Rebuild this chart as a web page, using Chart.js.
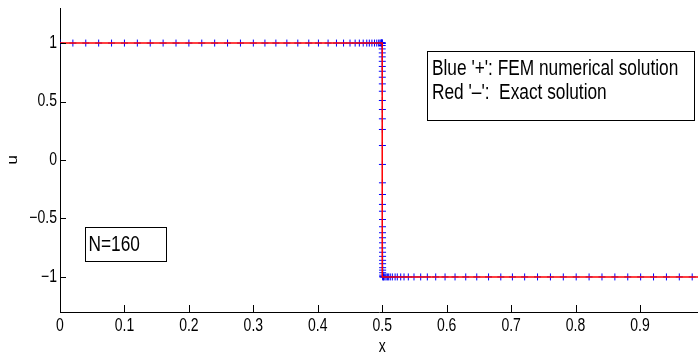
<!DOCTYPE html>
<html>
<head>
<meta charset="utf-8">
<script src="https://cdn.jsdelivr.net/npm/chart.js@4.4.0/dist/chart.umd.min.js"></script>
<style>
    html, body { margin: 0; padding: 0; background: #fff; overflow: hidden; }
</style>
</head>
<body>
<canvas id="solutionChart" width="698" height="356"></canvas>
<script>
// FEM nodes (blue '+')
const femX = [
    0, 0.02, 0.04, 0.06, 0.08, 0.10, 0.12, 0.14, 0.16, 0.18, 0.20, 0.22, 0.24, 0.26, 0.28, 0.30, 0.318,
    0.335, 0.352, 0.369, 0.386, 0.401, 0.416, 0.429, 0.440, 0.450, 0.458, 0.4645, 0.4705, 0.476, 0.480, 0.484, 0.488, 0.4915, 0.4945, 0.4965, 0.498, 0.499,
    0.4994, 0.4997, 0.4999,
    0.50000, 0.50002, 0.50004, 0.50006, 0.50008, 0.50010, 0.50012, 0.50014, 0.50016, 0.50018, 0.50020, 0.50022,
    0.50024, 0.50026, 0.50028, 0.50030, 0.50032, 0.50034, 0.50036, 0.50038, 0.50040, 0.50042, 0.50044, 0.50046,
    0.50048, 0.50050, 0.50052, 0.50054, 0.50056, 0.50058, 0.50060, 0.50062, 0.50064, 0.50066, 0.50068, 0.50070,
    0.5012, 0.502, 0.504, 0.506, 0.508, 0.510, 0.5125,
    0.5157, 0.520, 0.5234, 0.5287, 0.5338, 0.5405, 0.5493, 0.5597, 0.570, 0.583, 0.5975, 0.613, 0.6296, 0.6467,
    0.665, 0.684, 0.702, 0.721, 0.741, 0.761, 0.781, 0.801, 0.821, 0.841, 0.861, 0.881, 0.901, 0.921, 0.941, 0.961, 0.981, 1.0
];
const femU = [
    1, 1, 1, 1, 1, 1, 1, 1, 1, 1, 1, 1, 1, 1, 1, 1, 1,
    1, 1, 1, 1, 1, 1, 1, 1, 1, 1, 1, 1, 1, 1, 1, 1, 1, 1, 1, 1, 1,
    1, 1, 1,
    0.999, 0.979, 0.950, 0.916, 0.882, 0.844, 0.800, 0.759, 0.708, 0.651, 0.588, 0.509,
    0.432, 0.352, 0.261, 0.124, -0.038, -0.195, -0.295, -0.380, -0.438, -0.509, -0.571, -0.622,
    -0.665, -0.708, -0.752, -0.789, -0.824, -0.858, -0.887, -0.921, -0.942, -0.964, -0.985, -0.998,
    -1, -1, -1, -1, -1, -1, -1,
    -1, -1, -1, -1, -1, -1, -1, -1, -1, -1, -1, -1, -1, -1,
    -1, -1, -1, -1, -1, -1, -1, -1, -1, -1, -1, -1, -1, -1, -1, -1, -1, -1
];

// exact solution (red line)
const exactX = [0, 0.5, 0.5, 1];
const exactU = [1, 1, -1, -1];

const xTicks = [0, 0.1, 0.2, 0.3, 0.4, 0.5, 0.6, 0.7, 0.8, 0.9];
const xTickLabels = ['0', '0.1', '0.2', '0.3', '0.4', '0.5', '0.6', '0.7', '0.8', '0.9'];
const yTicks = [-1, -0.5, 0, 0.5, 1];
const yTickLabels = ['\u22121', '\u22120.5', '0', '0.5', '1'];

const legendLines = ["Blue '+': FEM numerical solution", "Red '\u2013':  Exact solution"];
const noteText = 'N=160';

const FONT = '"Liberation Sans", Arial, sans-serif';
const STRETCH = 1.25; // text in the figure is a bit tall and narrow

function stretchedText(ctx, text, px, py, size, align, baseline) {
    ctx.save();
    ctx.translate(px, py);
    ctx.scale(1, STRETCH);
    ctx.font = size + 'px ' + FONT;
    ctx.fillStyle = '#000';
    ctx.textAlign = align;
    ctx.textBaseline = baseline;
    ctx.fillText(text, 0, 0);
    ctx.restore();
}

// inward ticks, labels and the two text boxes (matlab look)
const matlabAxes = {
    id: 'matlabAxes',
    afterDraw(chart) {
        const { ctx, chartArea } = chart;
        const xs = chart.scales.x;
        const ys = chart.scales.y;

        ctx.save();
        ctx.strokeStyle = '#000';
        ctx.lineWidth = 1;
        ctx.beginPath();
        xs.ticks.forEach(t => {
            const px = Math.round(xs.getPixelForValue(t.value)) + 0.5;
            ctx.moveTo(px, chartArea.bottom);
            ctx.lineTo(px, chartArea.bottom - 7);
        });
        ys.ticks.forEach(t => {
            const py = Math.round(ys.getPixelForValue(t.value)) + 0.5;
            ctx.moveTo(chartArea.left, py);
            ctx.lineTo(chartArea.left + 6, py);
        });
        ctx.stroke();

        xs.ticks.forEach((t, i) => {
            stretchedText(ctx, xTickLabels[i], xs.getPixelForValue(t.value), 326, 14, 'center', 'middle');
        });
        ys.ticks.forEach((t, i) => {
            stretchedText(ctx, yTickLabels[i], chartArea.left - 3, ys.getPixelForValue(t.value), 14, 'right', 'middle');
        });

        // axis titles
        stretchedText(ctx, 'x', xs.getPixelForValue(0.5), 347, 14, 'center', 'middle');
        ctx.save();
        ctx.translate(13, ys.getPixelForValue(0));
        ctx.rotate(-Math.PI / 2);
        ctx.scale(STRETCH, 1);
        ctx.font = '14px ' + FONT;
        ctx.fillStyle = '#000';
        ctx.textAlign = 'center';
        ctx.textBaseline = 'middle';
        ctx.fillText('u', 0, 0);
        ctx.restore();

        // legend box
        ctx.fillStyle = '#fff';
        ctx.fillRect(427, 51, 268, 70);
        ctx.strokeRect(427.5, 51.5, 267, 69);
        stretchedText(ctx, legendLines[0], 432, 75, 17.3, 'left', 'alphabetic');
        stretchedText(ctx, legendLines[1], 432, 99, 17.3, 'left', 'alphabetic');

        // N box
        ctx.fillStyle = '#fff';
        ctx.fillRect(85, 227, 82, 35);
        ctx.strokeRect(85.5, 227.5, 81, 34);
        stretchedText(ctx, noteText, 88.5, 251, 17.3, 'left', 'alphabetic');
        ctx.restore();
    }
};

const ctx = document.getElementById('solutionChart');
const solutionChart = new Chart(ctx, {
    type: 'scatter',
    data: {
        datasets: [{
            label: 'Exact solution',
            data: exactX.map((x, i) => ({ x: x, y: exactU[i] })),
            showLine: true,
            borderColor: '#ff0000',
            borderWidth: 1.5,
            pointRadius: 0,
            order: 0
        }, {
            label: 'FEM numerical solution',
            data: femX.map((x, i) => ({ x: x, y: femU[i] })),
            showLine: false,
            pointStyle: 'cross',
            pointRadius: 3.5,
            pointBorderWidth: 1,
            borderColor: '#0000ff',
            backgroundColor: '#0000ff',
            order: 1
        }]
    },
    options: {
        responsive: false,
        animation: false,
        devicePixelRatio: 1,
        layout: {
            autoPadding: false,
            padding: { top: 8, right: 0, left: 0, bottom: 0 }
        },
        plugins: {
            legend: { display: false },
            tooltip: { enabled: false }
        },
        scales: {
            x: {
                type: 'linear',
                min: 0,
                max: 0.99,
                afterBuildTicks: scale => { scale.ticks = xTicks.map(v => ({ value: v })); },
                afterFit: scale => { scale.height = 44; },
                ticks: { display: false },
                grid: { display: false },
                border: { display: true, color: '#000', width: 1 }
            },
            y: {
                type: 'linear',
                min: -1.3,
                max: 1.3,
                afterBuildTicks: scale => { scale.ticks = yTicks.map(v => ({ value: v })); },
                afterFit: scale => { scale.width = 60; },
                ticks: { display: false },
                grid: { display: false },
                border: { display: true, color: '#000', width: 1 }
            }
        }
    },
    plugins: [matlabAxes]
});
</script>
</body>
</html>
